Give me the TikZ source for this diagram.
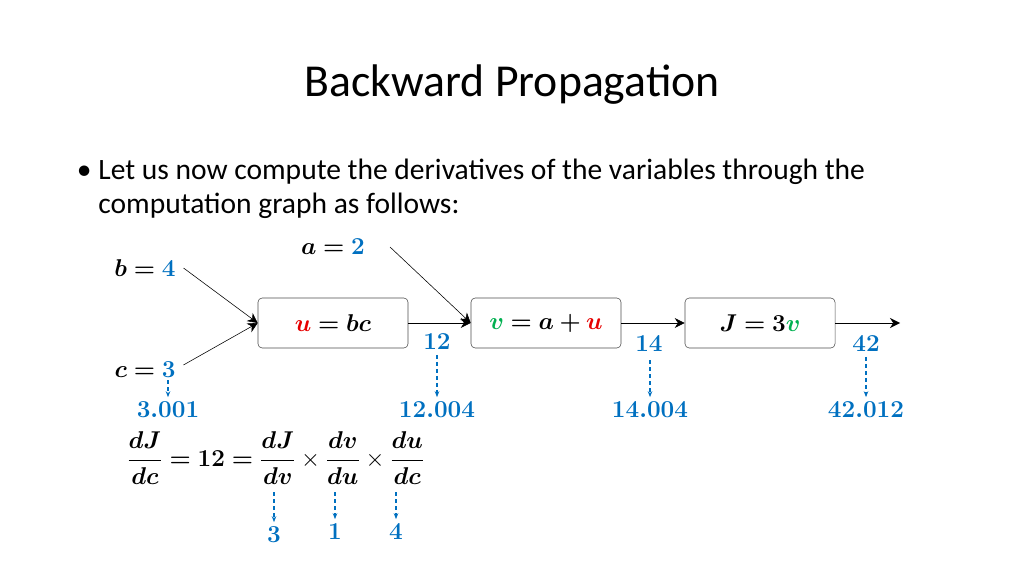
\documentclass[tikz,border=0pt]{standalone}
\usepackage{amsmath}
\usepackage{bm}
\usepackage{fontspec}
\setmainfont{Carlito}
\usetikzlibrary{arrows.meta, positioning}
\definecolor{myblue}{RGB}{0,112,192}
\definecolor{myred}{RGB}{230,0,0}
\definecolor{mygreen}{RGB}{0,176,80}
\tikzset{
opbox/.style={
    rectangle,
    draw=black!70,
    rounded corners=3pt,
    minimum width=3.75cm,
    minimum height=1.25cm,
    font=\fontsize{16}{18}\selectfont
},
val/.style={font=\fontsize{16}{18}\selectfont, text=myblue},
eqn/.style={font=\fontsize{16}{18}\selectfont},
probe/.style={->, >={Stealth[length=1.5mm]}, myblue, densely dashed, thick}
}

\begin{document}
\begin{tikzpicture}[x=0.025cm, y=-0.025cm, >={Stealth[length=2.5mm, width=2.5mm]}]
    \useasboundingbox (0,0) rectangle (1024,576);

    % title and bullet
    \node (title) at (512,85) {\fontsize{32.5}{36}\selectfont Backward Propagation};
    \node[anchor=west, align=left, font=\fontsize{21}{24}\selectfont] (txt) at (72,189)
        {\textbullet\ Let us now compute the derivatives of the variables through the\\
         \phantom{\textbullet\ }computation graph as follows:};

    % inputs
    \node[eqn] (b) at (145,268) {$\bm{b=}\textcolor{myblue}{\bm{4}}$};
    \node[eqn] (c) at (145,370) {$\bm{c=}\textcolor{myblue}{\bm{3}}$};
    \node[eqn] (a) at (333,247) {$\bm{a=}\textcolor{myblue}{\bm{2}}$};

    % boxes
    \node[opbox] (U) at (333,323) {$\textcolor{myred}{\bm{u}}\bm{=bc}$};
    \node[opbox] (V) at (546,323) {$\textcolor{mygreen}{\bm{v}}\bm{=a+}\textcolor{myred}{\bm{u}}$};
    \node[opbox] (J) at (760,323) {$\bm{J=3}\textcolor{mygreen}{\bm{v}}$};
    \coordinate (out) at (900,323);

    % edges
    \draw[->] (b.east) ++(3,0) -- (U.west);
    \draw[->] (c.east) ++(3,-5) -- (U.west);
    \draw[->] (390,247) -- (V.west);
    \draw[->] (U) -- (V);
    \draw[->] (V) -- (J);
    \draw[->] (J) -- (out);

    % values
    \node[val] (g12) at (437,342) {$\bm{12}$};
    \node[val] (g14) at (649,344) {$\bm{14}$};
    \node[val] (g42) at (866,344) {$\bm{42}$};
    \node[val] (n3) at (168,410) {$\bm{3.001}$};
    \node[val] (n12) at (437,410) {$\bm{12.004}$};
    \node[val] (n14) at (650,410) {$\bm{14.004}$};
    \node[val] (n42) at (866,410) {$\bm{42.012}$};
    \draw[probe] (168,380) -- (n3.north);
    \draw[probe] (g12.south) -- (n12.north);
    \draw[probe] (650,360) -- (n14.north);
    \draw[probe] (g42.south) -- (n42.north);

    % chain rule
    \node[eqn, anchor=west] (chain) at (122,458)
        {$\bm{\dfrac{dJ}{dc}=12=\dfrac{dJ}{dv}}\times\bm{\dfrac{dv}{du}}\times\bm{\dfrac{du}{dc}}$};
    \node[val] (d3) at (274,535) {$\bm{3}$};
    \node[val] (d1) at (335,532) {$\bm{1}$};
    \node[val] (d4) at (396,532) {$\bm{4}$};
    \draw[probe] (274,492) -- (d3.north);
    \draw[probe] (335,492) -- (d1.north);
    \draw[probe] (396,492) -- (d4.north);
\end{tikzpicture}
\end{document}
